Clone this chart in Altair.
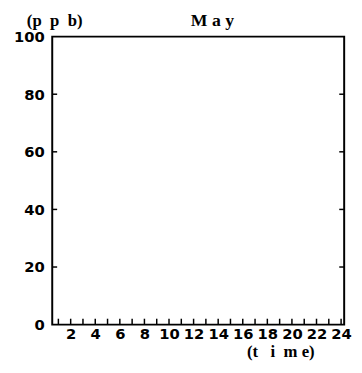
import altair as alt
import pandas as pd

# Data (the chart is an empty frame: no series plotted)
hours = list(range(1, 25))
hour_labels = list(range(2, 25, 2))
y_ticks = [0, 20, 40, 60, 80, 100]
y_inner_ticks = [20, 40, 60, 80]
NB = "\u00a0"
title_text = "M" + NB + "a" + NB + "y"
y_title = "(p" + NB * 2 + "p" + NB * 2 + "b)"
x_title = "(t" + NB * 3 + "i" + NB * 2 + "m" + NB + "e)"

W, H = 297, 293

hour_df = pd.DataFrame({"hour": hours})
ytick_df = pd.DataFrame({"v": y_inner_ticks})
title_df = pd.DataFrame({"t": [title_text]})

xscale = alt.Scale(domain=[0.5, 24.25], nice=False, zero=False)
yscale = alt.Scale(domain=[0, 100], nice=False)

num_font = "DejaVu Sans"
txt_font = "Liberation Serif"

xaxis = alt.Axis(values=hour_labels, tickSize=0, domain=False, grid=False,
                 labelFont=num_font, labelFontSize=15, labelFontWeight="bold",
                 labelColor="black", labelPadding=2, labelFlush=False,
                 title=x_title, titleFont=txt_font, titleFontSize=17,
                 titleFontWeight="bold", titleColor="black",
                 titleX=232, titleY=27, titleAlign="center", titleBaseline="middle")
yaxis = alt.Axis(values=y_ticks, tickSize=0, domain=False, grid=False,
                 labelFont=num_font, labelFontSize=15, labelFontWeight="bold",
                 labelColor="black", labelPadding=8, labelFlush=False,
                 title=y_title, titleFont=txt_font, titleFontSize=17,
                 titleFontWeight="bold", titleColor="black", titleAngle=0,
                 titleX=2, titleY=-16, titleAlign="center", titleBaseline="middle")

bottom_ticks = alt.Chart(hour_df).mark_rule(color="black", strokeWidth=1.5).encode(
    x=alt.X("hour:Q", scale=xscale, axis=xaxis),
    y=alt.value(H),
    y2=alt.value(H - 6),
)
left_ticks = alt.Chart(ytick_df).mark_rule(color="black", strokeWidth=1.5).encode(
    y=alt.Y("v:Q", scale=yscale, axis=yaxis),
    x=alt.value(0),
    x2=alt.value(5),
)
right_ticks = alt.Chart(ytick_df).mark_rule(color="black", strokeWidth=1.5).encode(
    y=alt.Y("v:Q", scale=yscale, axis=yaxis),
    x=alt.value(W - 5),
    x2=alt.value(W),
)
title_mark = alt.Chart(title_df).mark_text(
    font=txt_font, fontSize=18, fontWeight="bold", color="black",
    align="center", baseline="middle",
).encode(text="t:N", x=alt.value(163), y=alt.value(-16))

chart = alt.layer(bottom_ticks, left_ticks, right_ticks, title_mark).properties(
    width=W, height=H,
    autosize=alt.AutoSizeParams(type="none"),
    padding={"left": 45, "top": 26, "right": 10, "bottom": 40},
).configure(background="white").configure_view(stroke="black", strokeWidth=2)

chart.save("out.html", embed_options={"renderer": "svg", "actions": False})
